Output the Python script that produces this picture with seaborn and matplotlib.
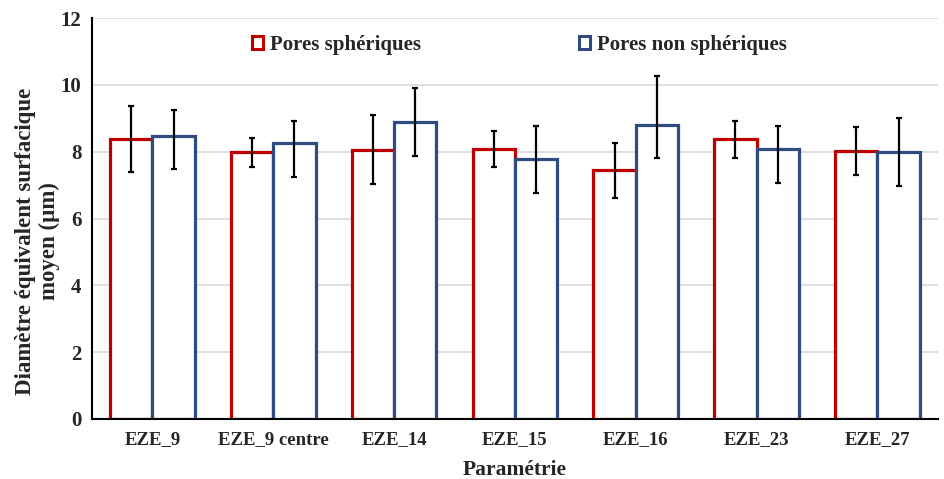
import pandas as pd
import numpy as np
import matplotlib
matplotlib.use("Agg")
import matplotlib.pyplot as plt
import seaborn as sns
from matplotlib.patches import Patch

categories = ["EZE_9", "EZE_9 centre", "EZE_14", "EZE_15", "EZE_16", "EZE_23", "EZE_27"]
spheriques = [8.38, 7.98, 8.06, 8.09, 7.44, 8.37, 8.03]
spheriques_err_lo = [0.98, 0.44, 1.03, 0.54, 0.83, 0.56, 0.74]
spheriques_err_hi = [0.98, 0.44, 1.03, 0.53, 0.83, 0.56, 0.71]
non_spheriques = [8.46, 8.26, 8.88, 7.77, 8.81, 8.07, 7.98]
non_spheriques_err_lo = [0.99, 1.03, 1.02, 1.01, 1.00, 1.00, 1.01]
non_spheriques_err_hi = [0.78, 0.65, 1.02, 0.99, 1.47, 0.71, 1.02]

series_names = ["Pores sphériques", "Pores non sphériques"]
colors = ["#C00000", "#2F4C82"]

sns.set_theme(style="white")
plt.rcParams["font.family"] = ["Liberation Serif", "DejaVu Serif"]
plt.rcParams["font.weight"] = "bold"

df = pd.DataFrame({
    "Paramétrie": categories * 2,
    "valeur": spheriques + non_spheriques,
    "serie": [series_names[0]] * len(categories) + [series_names[1]] * len(categories),
})

fig = plt.figure(figsize=(9.44, 4.79), dpi=100)
ax = fig.add_axes([0.0975, 0.1253, 0.896, 0.837])

sns.barplot(data=df, x="Paramétrie", y="valeur", hue="serie", order=categories,
            hue_order=series_names, palette=colors, fill=False, errorbar=None,
            width=0.7, gap=0, legend=False, ax=ax, zorder=3)

errs = [(spheriques_err_lo, spheriques_err_hi), (non_spheriques_err_lo, non_spheriques_err_hi)]
vals = [spheriques, non_spheriques]
for cont, col, (lo, hi), v in zip(ax.containers, colors, errs, vals):
    xs = []
    for p in cont.patches:
        p.set_edgecolor(col)
        p.set_linewidth(2.3)
        p.set_facecolor("white")
        xs.append(p.get_x() + p.get_width() / 2)
    ax.errorbar(xs, v, yerr=[lo, hi], fmt="none", ecolor="black", elinewidth=1.6,
                capsize=2, capthick=1.6, zorder=4)

ax.set_ylim(0, 12)
ax.set_xlim(-0.5, len(categories) - 0.5)
ax.set_yticks(np.arange(0, 13, 2))
ax.yaxis.grid(True, color="#D9D9D9", linewidth=1.2, zorder=0)
ax.set_axisbelow(True)

ax.set_xticks(np.arange(len(categories)))
ax.set_xticklabels(categories, fontsize=13.5, fontweight="bold")
ax.set_xticks(np.arange(-0.5, len(categories) + 0.5, 1), minor=True)
ax.tick_params(axis="x", which="major", length=0, pad=9)
ax.tick_params(axis="x", which="minor", length=5, width=1.3, direction="inout", color="black")
ax.tick_params(axis="y", which="major", length=5, width=1.3, direction="inout", color="black",
               labelsize=15, pad=5)
for t in ax.get_yticklabels():
    t.set_fontweight("bold")

for s in ["top", "right"]:
    ax.spines[s].set_visible(False)
for s in ["left", "bottom"]:
    ax.spines[s].set_color("black")
    ax.spines[s].set_linewidth(1.5)
    ax.spines[s].set_zorder(5)

ax.set_xlabel("Paramétrie", fontsize=15.5, fontweight="bold", labelpad=8)
ax.set_ylabel("Diamètre équivalent surfacique\nmoyen (µm)", fontsize=16.5,
              fontweight="bold", va="center", ha="center")
ax.yaxis.set_label_coords(-0.0644, 0.444)

handles = [Patch(facecolor="white", edgecolor=c, linewidth=2.2, label=n)
           for c, n in zip(colors, series_names)]
leg = ax.legend(handles=handles, loc="upper center", bbox_to_anchor=(0.505, 1.005), ncol=2,
                frameon=False, handlelength=0.55, handleheight=0.55, handletextpad=0.3,
                columnspacing=7.6, prop={"weight": "bold", "size": 15})

fig.savefig("out.png", dpi=100)
